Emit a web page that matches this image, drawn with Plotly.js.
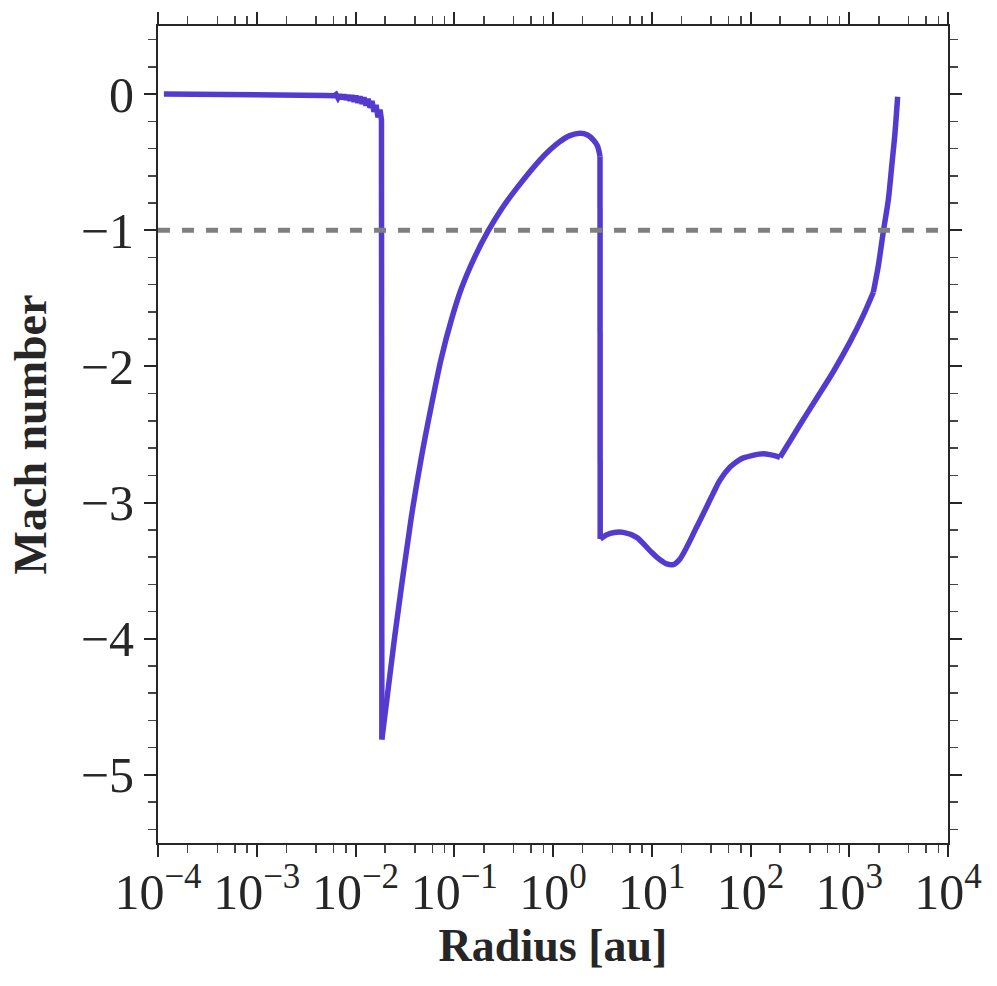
<!DOCTYPE html>
<html>
<head>
<meta charset="utf-8">
<script src="https://cdn.plot.ly/plotly-3.0.1.min.js"></script>
<style>
  html, body { margin: 0; padding: 0; background: #fff; }
  #plot { width: 997px; height: 986px; }
</style>
</head>
<body>
<div id="plot"></div>
<script>
// Each segment: log10(radius [au]) and Mach number.
// Inner subsonic part with the noisy band, then the jump down at ~0.018 au
const innerLogR = [
  -3.94, -3.6, -3.3, -3.0, -2.7, -2.5, -2.3, -2.217,
  -2.197, -2.177, -2.157, -2.137, -2.116, -2.096, -2.076, -2.056, -2.035, -2.015,
  -1.995, -1.975, -1.954, -1.934, -1.914, -1.894, -1.873, -1.853, -1.833, -1.813,
  -1.792, -1.772, -1.752, -1.737, -1.733
];
const innerMach = [
  0, 0, 0, -0.001, -0.003, -0.007, -0.01, -0.012,
  -0.002, -0.028, -0.004, -0.034, -0.005, -0.04, -0.008, -0.047, -0.01, -0.055,
  -0.013, -0.063, -0.018, -0.072, -0.024, -0.084, -0.035, -0.1, -0.05, -0.13,
  -0.08, -0.17, -0.115, -0.19, -4.74
];
// Recovery from the minimum up to the second jump at ~3 au
const riseLogR = [
  -1.733, -1.603, -1.435, -1.334, -1.233, -1.132, -1.030, -0.929, -0.793,
  -0.658, -0.524, -0.355, -0.14, -0.03, 0.071, 0.17, 0.273, 0.35,
  0.408, 0.45, 0.476
];
const riseMach = [
  -4.74, -3.985, -3.109, -2.672, -2.292, -1.942, -1.66, -1.43, -1.197,
  -1.007, -0.847, -0.68, -0.49, -0.409, -0.348, -0.305, -0.287, -0.30,
  -0.336, -0.38, -0.457
];
const jumpLogR = [0.476, 0.478];
const jumpMach = [-0.457, -3.268];
// Dip around 10 au up to the kink near 200 au
const dipLogR = [
  0.478, 0.544, 0.62, 0.712, 0.847, 0.982, 1.05, 1.151, 1.218, 1.286,
  1.455, 1.624, 1.691, 1.792, 1.86, 1.927, 2.13, 2.299
];
const dipMach = [
  -3.268, -3.236, -3.22, -3.219, -3.255, -3.353, -3.40, -3.45, -3.455, -3.414,
  -3.18, -2.93, -2.835, -2.74, -2.70, -2.672, -2.642, -2.667
];
const outerLogR = [2.299, 2.501, 2.67, 2.838, 3.008, 3.142, 3.244];
const outerMach = [-2.667, -2.428, -2.234, -2.039, -1.82, -1.625, -1.455];
const edgeLogR = [3.244, 3.294, 3.345, 3.396, 3.43, 3.463, 3.49];
const edgeMach = [-1.455, -1.263, -1.01, -0.774, -0.531, -0.287, -0.02];

const sonicMach = -1;
const xDecades = [-4, -3, -2, -1, 0, 1, 2, 3, 4];
const xMinorMult = [2, 4, 6, 8];
const yMajor = [-5, -4, -3, -2, -1, 0];

const xTickVals = xDecades.map(d => Math.pow(10, d));
const xTickText = xDecades.map(d => '10<sup>' + (d < 0 ? '\u2212' + (-d) : d) + '</sup>');
const xMinorVals = [];
xDecades.slice(0, -1).forEach(d => xMinorMult.forEach(m => xMinorVals.push(m * Math.pow(10, d))));

const fontFamily = '"Liberation Serif", "DejaVu Serif", serif';
const ink = '#262626';
const lineColor = '#553ACF';

function seg(logR, mach, shape) {
  return {
    x: logR.map(v => Math.pow(10, v)),
    y: mach,
    mode: 'lines',
    type: 'scatter',
    line: { color: lineColor, width: 5.5, shape: shape, smoothing: 0.8 },
    hoverinfo: 'skip'
  };
}

const traces = [
  seg(innerLogR, innerMach, 'linear'),
  seg(riseLogR, riseMach, 'spline'),
  seg(jumpLogR, jumpMach, 'linear'),
  seg(dipLogR, dipMach, 'spline'),
  seg(outerLogR, outerMach, 'spline'),
  seg(edgeLogR, edgeMach, 'spline'),
  {
    x: [xTickVals[0], xTickVals[xTickVals.length - 1]],
    y: [sonicMach, sonicMach],
    mode: 'lines',
    type: 'scatter',
    line: { color: '#808080', width: 5, dash: '12px,12px' },
    hoverinfo: 'skip'
  }
];

const layout = {
  width: 997,
  height: 986,
  margin: { l: 158, r: 49, t: 26, b: 143 },
  paper_bgcolor: '#ffffff',
  plot_bgcolor: '#ffffff',
  showlegend: false,
  font: { family: fontFamily, color: ink },
  xaxis: {
    type: 'log',
    range: [-4, 4],
    showgrid: false,
    zeroline: false,
    showline: true,
    linecolor: ink,
    linewidth: 2,
    mirror: 'allticks',
    ticks: 'outside',
    ticklen: 12,
    tickwidth: 2,
    tickcolor: ink,
    tickmode: 'array',
    tickvals: xTickVals,
    ticktext: xTickText,
    ticklabelstandoff: -8,
    tickfont: { family: fontFamily, size: 50, color: ink },
    minor: { tickmode: 'array', tickvals: xMinorVals, ticks: 'outside', ticklen: 8, tickwidth: 1.5, tickcolor: '#444' },
    title: { text: '<b>Radius [au]</b>', font: { family: fontFamily, size: 46, color: ink }, standoff: 8 },
    automargin: false
  },
  yaxis: {
    range: [-5.5, 0.5],
    showgrid: false,
    zeroline: false,
    showline: true,
    linecolor: ink,
    linewidth: 2,
    mirror: 'allticks',
    ticks: 'outside',
    ticklen: 12,
    tickwidth: 2,
    tickcolor: ink,
    tickmode: 'array',
    tickvals: yMajor,
    tickfont: { family: fontFamily, size: 50, color: ink },
    minor: { dtick: 0.2, ticks: 'outside', ticklen: 8, tickwidth: 1.5, tickcolor: '#444' },
    title: { text: '<b>Mach number</b>', font: { family: fontFamily, size: 46, color: ink }, standoff: 20 },
    automargin: false
  }
};

Plotly.newPlot('plot', traces, layout, { displayModeBar: false, staticPlot: true });
</script>
</body>
</html>
